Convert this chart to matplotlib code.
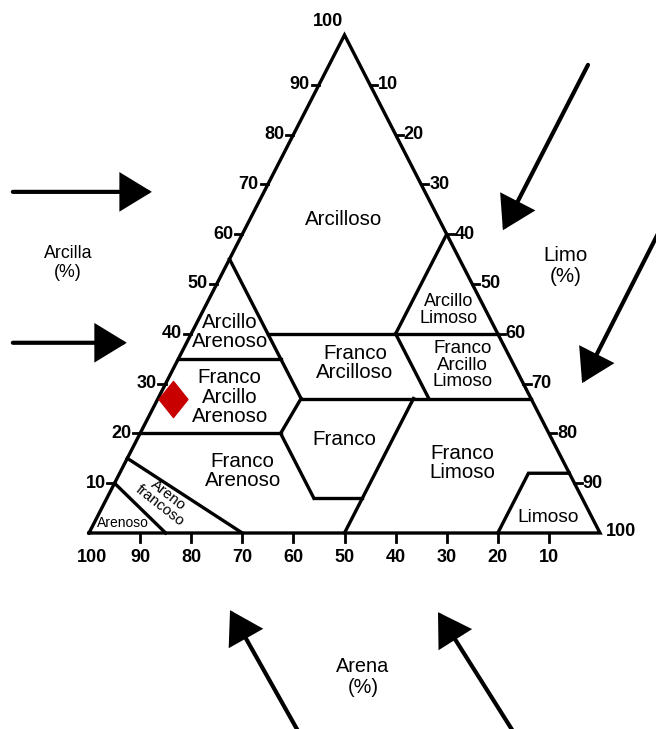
import matplotlib
matplotlib.use("Agg")
import matplotlib.pyplot as plt
from matplotlib.path import Path

plt.rcParams['font.family'] = ['Liberation Sans', 'DejaVu Sans']

# ---------------- data ----------------
clay_ticks = [10, 20, 30, 40, 50, 60, 70, 80, 90]
silt_ticks = [10, 20, 30, 40, 50, 60, 70, 80, 90]
sand_ticks = [90, 80, 70, 60, 50, 40, 30, 20, 10]

# class boundaries, each a polyline of (clay %, silt %) points
b_sand45 = [(55, 0), (40, 15), (35, 20), (27, 28)]
b_clay40 = [(40, 15), (40, 60)]
b_silt40 = [(40, 40), (60, 40)]
b_clay35 = [(35, 0), (35, 20)]
b_clay27 = [(27, 28), (27, 73)]
b_sand20 = [(40, 40), (27, 53)]
b_silt28 = [(27, 28), (20, 27.5)]
b_clay20 = [(20, 0), (20, 27.5)]
b_sand52 = [(20, 27.5), (7, 40.5)]
b_clay7 = [(7, 40.5), (7, 50)]
b_silt50 = [(0, 50), (27, 50)]
b_silt80 = [(0, 80), (12, 80), (12, 88)]
b_loamysand = [(15, 0), (0, 30)]
b_sand = [(10, 0), (0, 15)]
boundaries = [b_sand45, b_clay40, b_silt40, b_clay35, b_clay27, b_sand20,
              b_silt28, b_clay20, b_sand52, b_clay7, b_silt50, b_silt80,
              b_loamysand, b_sand]

# class names with label position (clay %, silt %)
class_names = ["Arcilloso", "Arcillo\nArenoso", "Franco\nArcillo\nArenoso",
               "Franco\nArenoso", "Areno\nfrancoso", "Arenoso",
               "Franco\nArcilloso", "Franco", "Arcillo\nLimoso",
               "Franco\nArcillo\nLimoso", "Franco\nLimoso", "Limoso"]
class_clay = [62.9, 40.4, 27.3, 12.4, 6.6, 2.0, 34.1, 18.7, 44.8, 33.7, 14.1, 3.2]
class_silt = [18.3, 7.4, 13.9, 23.9, 11.3, 5.6, 35.0, 40.7, 47.9, 56.3, 66.1, 88.2]
class_size = [14.8, 14.8, 14.8, 14.8, 10.8, 10.0, 14.8, 14.8, 13.0, 13.5, 14.8, 13.8]
class_rot = [0, 0, 0, 0, -38, 0, 0, 0, 0, 0, 0, 0]
class_lsp = [1.0, 1.02, 1.02, 1.02, 0.95, 1.0, 1.02, 1.0, 0.98, 0.98, 1.02, 1.0]

# sample point
sample_sand = 70
sample_silt = 3
sample_clay = 27


def tern(clay, silt):
    """ternary -> cartesian (x: 0 at 100 % sand, y: clay)"""
    return silt + clay / 2.0, clay


# ---------------- figure ----------------
W, H = 656, 729
fig = plt.figure(figsize=(W / 100, H / 100), dpi=100)
fig.patch.set_facecolor("white")
ax = fig.add_axes([89 / W, (H - 533) / H, 511 / W, 498 / H])
ax.set_xlim(0, 100)
ax.set_ylim(0, 100)
ax.axis("off")

LW = 2.4
# outline
corners = [tern(0, 0), tern(0, 100), tern(100, 0), tern(0, 0)]
ax.plot([c[0] for c in corners], [c[1] for c in corners], color="black",
        lw=LW, solid_joinstyle="miter", clip_on=False)

for line in boundaries:
    pts = [tern(c, s) for c, s in line]
    ax.plot([p[0] for p in pts], [p[1] for p in pts], color="black", lw=LW,
            solid_joinstyle="miter", solid_capstyle="projecting", clip_on=False)

tick_font = dict(fontsize=13, fontweight="bold", color="black")
tx = 1.4
# left axis (clay)
for c in clay_ticks:
    x, y = tern(c, 0)
    ax.plot([x - tx, x], [y, y], color="black", lw=2, clip_on=False)
    ax.annotate(str(c), xy=(x, y), xytext=(-9, 0), textcoords="offset pixels",
                ha="right", va="center", annotation_clip=False, **tick_font)
ax.annotate("100", xy=tern(100, 0), xytext=(-17, 13), textcoords="offset pixels",
            ha="center", va="center", annotation_clip=False, **tick_font)
# right axis (silt)
for s in silt_ticks:
    x, y = tern(100 - s, s)
    ax.plot([x, x + tx], [y, y], color="black", lw=2, clip_on=False)
    ax.annotate(str(s), xy=(x, y), xytext=(8, 0), textcoords="offset pixels",
                ha="left", va="center", annotation_clip=False, **tick_font)
ax.annotate("100", xy=tern(0, 100), xytext=(6, 2), textcoords="offset pixels",
            ha="left", va="center", annotation_clip=False, **tick_font)
# bottom axis (sand)
for a in sand_ticks:
    x, y = tern(0, 100 - a)
    ax.plot([x, x], [0, -1.9], color="black", lw=2, clip_on=False)
    ax.annotate(str(a), xy=(x, 0), xytext=(0, -24), textcoords="offset pixels",
                ha="center", va="center", annotation_clip=False, **tick_font)
ax.annotate("100", xy=tern(0, 0), xytext=(3, -24), textcoords="offset pixels",
            ha="center", va="center", annotation_clip=False, **tick_font)

# class labels
for name, c, s, fs, rot, lsp in zip(class_names, class_clay, class_silt,
                                    class_size, class_rot, class_lsp):
    x, y = tern(c, s)
    ax.text(x, y, name, ha="center", va="center", fontsize=fs, rotation=rot,
            linespacing=lsp, rotation_mode="anchor")

# sample point
diamond = Path([(0, 1), (0.8, 0), (0, -1), (-0.8, 0), (0, 1)],
               [Path.MOVETO, Path.LINETO, Path.LINETO, Path.LINETO, Path.CLOSEPOLY])
px, py = tern(sample_clay, sample_silt)
ax.plot([px], [py], marker=diamond, ms=26, color="#c80000", mec="#c80000",
        linestyle="none", clip_on=False, zorder=5)

# axis titles and arrows
title_kw = dict(ha="center", va="center", linespacing=1.15)
ax.text(-4.1, 54.3, "Arcilla\n(%)", fontsize=12.8, **title_kw)
ax.text(93.2, 53.6, "Limo\n(%)", fontsize=14.8, **title_kw)
ax.text(53.6, -28.9, "Arena\n(%)", fontsize=14.3, **title_kw)

arrow_kw = dict(arrowstyle="-|>,head_length=0.95,head_width=0.58",
                mutation_scale=20, lw=3, color="black", shrinkA=0, shrinkB=0,
                joinstyle="miter")
arrows = [((-14.9, 68.5), (12.3, 68.5)),
          ((-14.9, 38.2), (7.4, 38.2)),
          ((97.65, 94.0), (81.0, 60.8)),
          ((115.7, 68.9), (96.5, 30.1)),
          ((42.9, -43.4), (27.6, -15.5)),
          ((85.3, -43.6), (68.3, -15.9))]
for start, tip in arrows:
    ax.annotate("", xy=tip, xytext=start, xycoords="data",
                arrowprops=arrow_kw, annotation_clip=False)

fig.savefig("out.png", dpi=100, facecolor="white")
